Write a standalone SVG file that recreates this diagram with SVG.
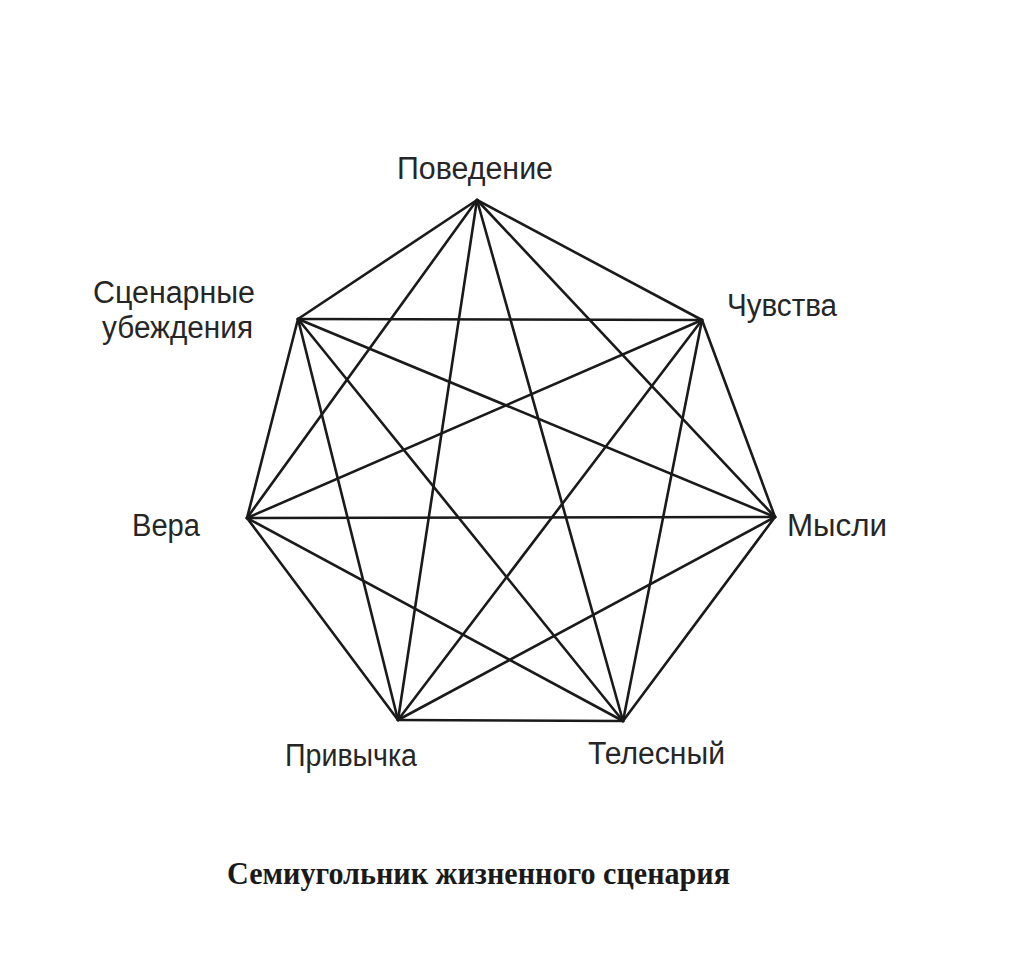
<svg xmlns="http://www.w3.org/2000/svg" width="1027" height="975" viewBox="0 0 1027 975">
<style>
.lbl{font-family:"Liberation Sans",Arial,sans-serif;font-size:31px;fill:#262626}
.cap{font-family:"Liberation Serif","Times New Roman",serif;font-size:32px;font-weight:bold;fill:#1a1a1a}
.e line{stroke:#1a1a1a;stroke-width:2.6;stroke-linecap:round}
</style>
<rect width="1027" height="975" fill="#ffffff"/>
<g id="connectors" class="e">
<line x1="477" y1="200" x2="702" y2="320"/>
<line x1="477" y1="200" x2="775" y2="517"/>
<line x1="477" y1="200" x2="623" y2="721"/>
<line x1="477" y1="200" x2="398" y2="720"/>
<line x1="477" y1="200" x2="247" y2="518"/>
<line x1="477" y1="200" x2="298" y2="319"/>
<line x1="702" y1="320" x2="775" y2="517"/>
<line x1="702" y1="320" x2="623" y2="721"/>
<line x1="702" y1="320" x2="398" y2="720"/>
<line x1="702" y1="320" x2="247" y2="518"/>
<line x1="702" y1="320" x2="298" y2="319"/>
<line x1="775" y1="517" x2="623" y2="721"/>
<line x1="775" y1="517" x2="398" y2="720"/>
<line x1="775" y1="517" x2="247" y2="518"/>
<line x1="775" y1="517" x2="298" y2="319"/>
<line x1="623" y1="721" x2="398" y2="720"/>
<line x1="623" y1="721" x2="247" y2="518"/>
<line x1="623" y1="721" x2="298" y2="319"/>
<line x1="398" y1="720" x2="247" y2="518"/>
<line x1="398" y1="720" x2="298" y2="319"/>
<line x1="247" y1="518" x2="298" y2="319"/>
</g>
<g id="node-povedenie"><text class="lbl" x="397" y="179" textLength="156" lengthAdjust="spacingAndGlyphs">Поведение</text></g>
<g id="node-scenarnye"><text class="lbl" x="93" y="303" textLength="162" lengthAdjust="spacingAndGlyphs">Сценарные</text><text class="lbl" x="102" y="338" textLength="151" lengthAdjust="spacingAndGlyphs">убеждения</text></g>
<g id="node-chuvstva"><text class="lbl" x="727" y="316" textLength="110" lengthAdjust="spacingAndGlyphs">Чувства</text></g>
<g id="node-vera"><text class="lbl" x="132" y="536" textLength="68" lengthAdjust="spacingAndGlyphs">Вера</text></g>
<g id="node-mysli"><text class="lbl" x="787" y="536" textLength="100" lengthAdjust="spacingAndGlyphs">Мысли</text></g>
<g id="node-privychka"><text class="lbl" x="285" y="766" textLength="132" lengthAdjust="spacingAndGlyphs">Привычка</text></g>
<g id="node-telesny"><text class="lbl" x="588" y="764" textLength="137" lengthAdjust="spacingAndGlyphs">Телесный</text></g>
<text class="cap" x="227" y="884" textLength="503" lengthAdjust="spacingAndGlyphs">Семиугольник жизненного сценария</text>
</svg>
